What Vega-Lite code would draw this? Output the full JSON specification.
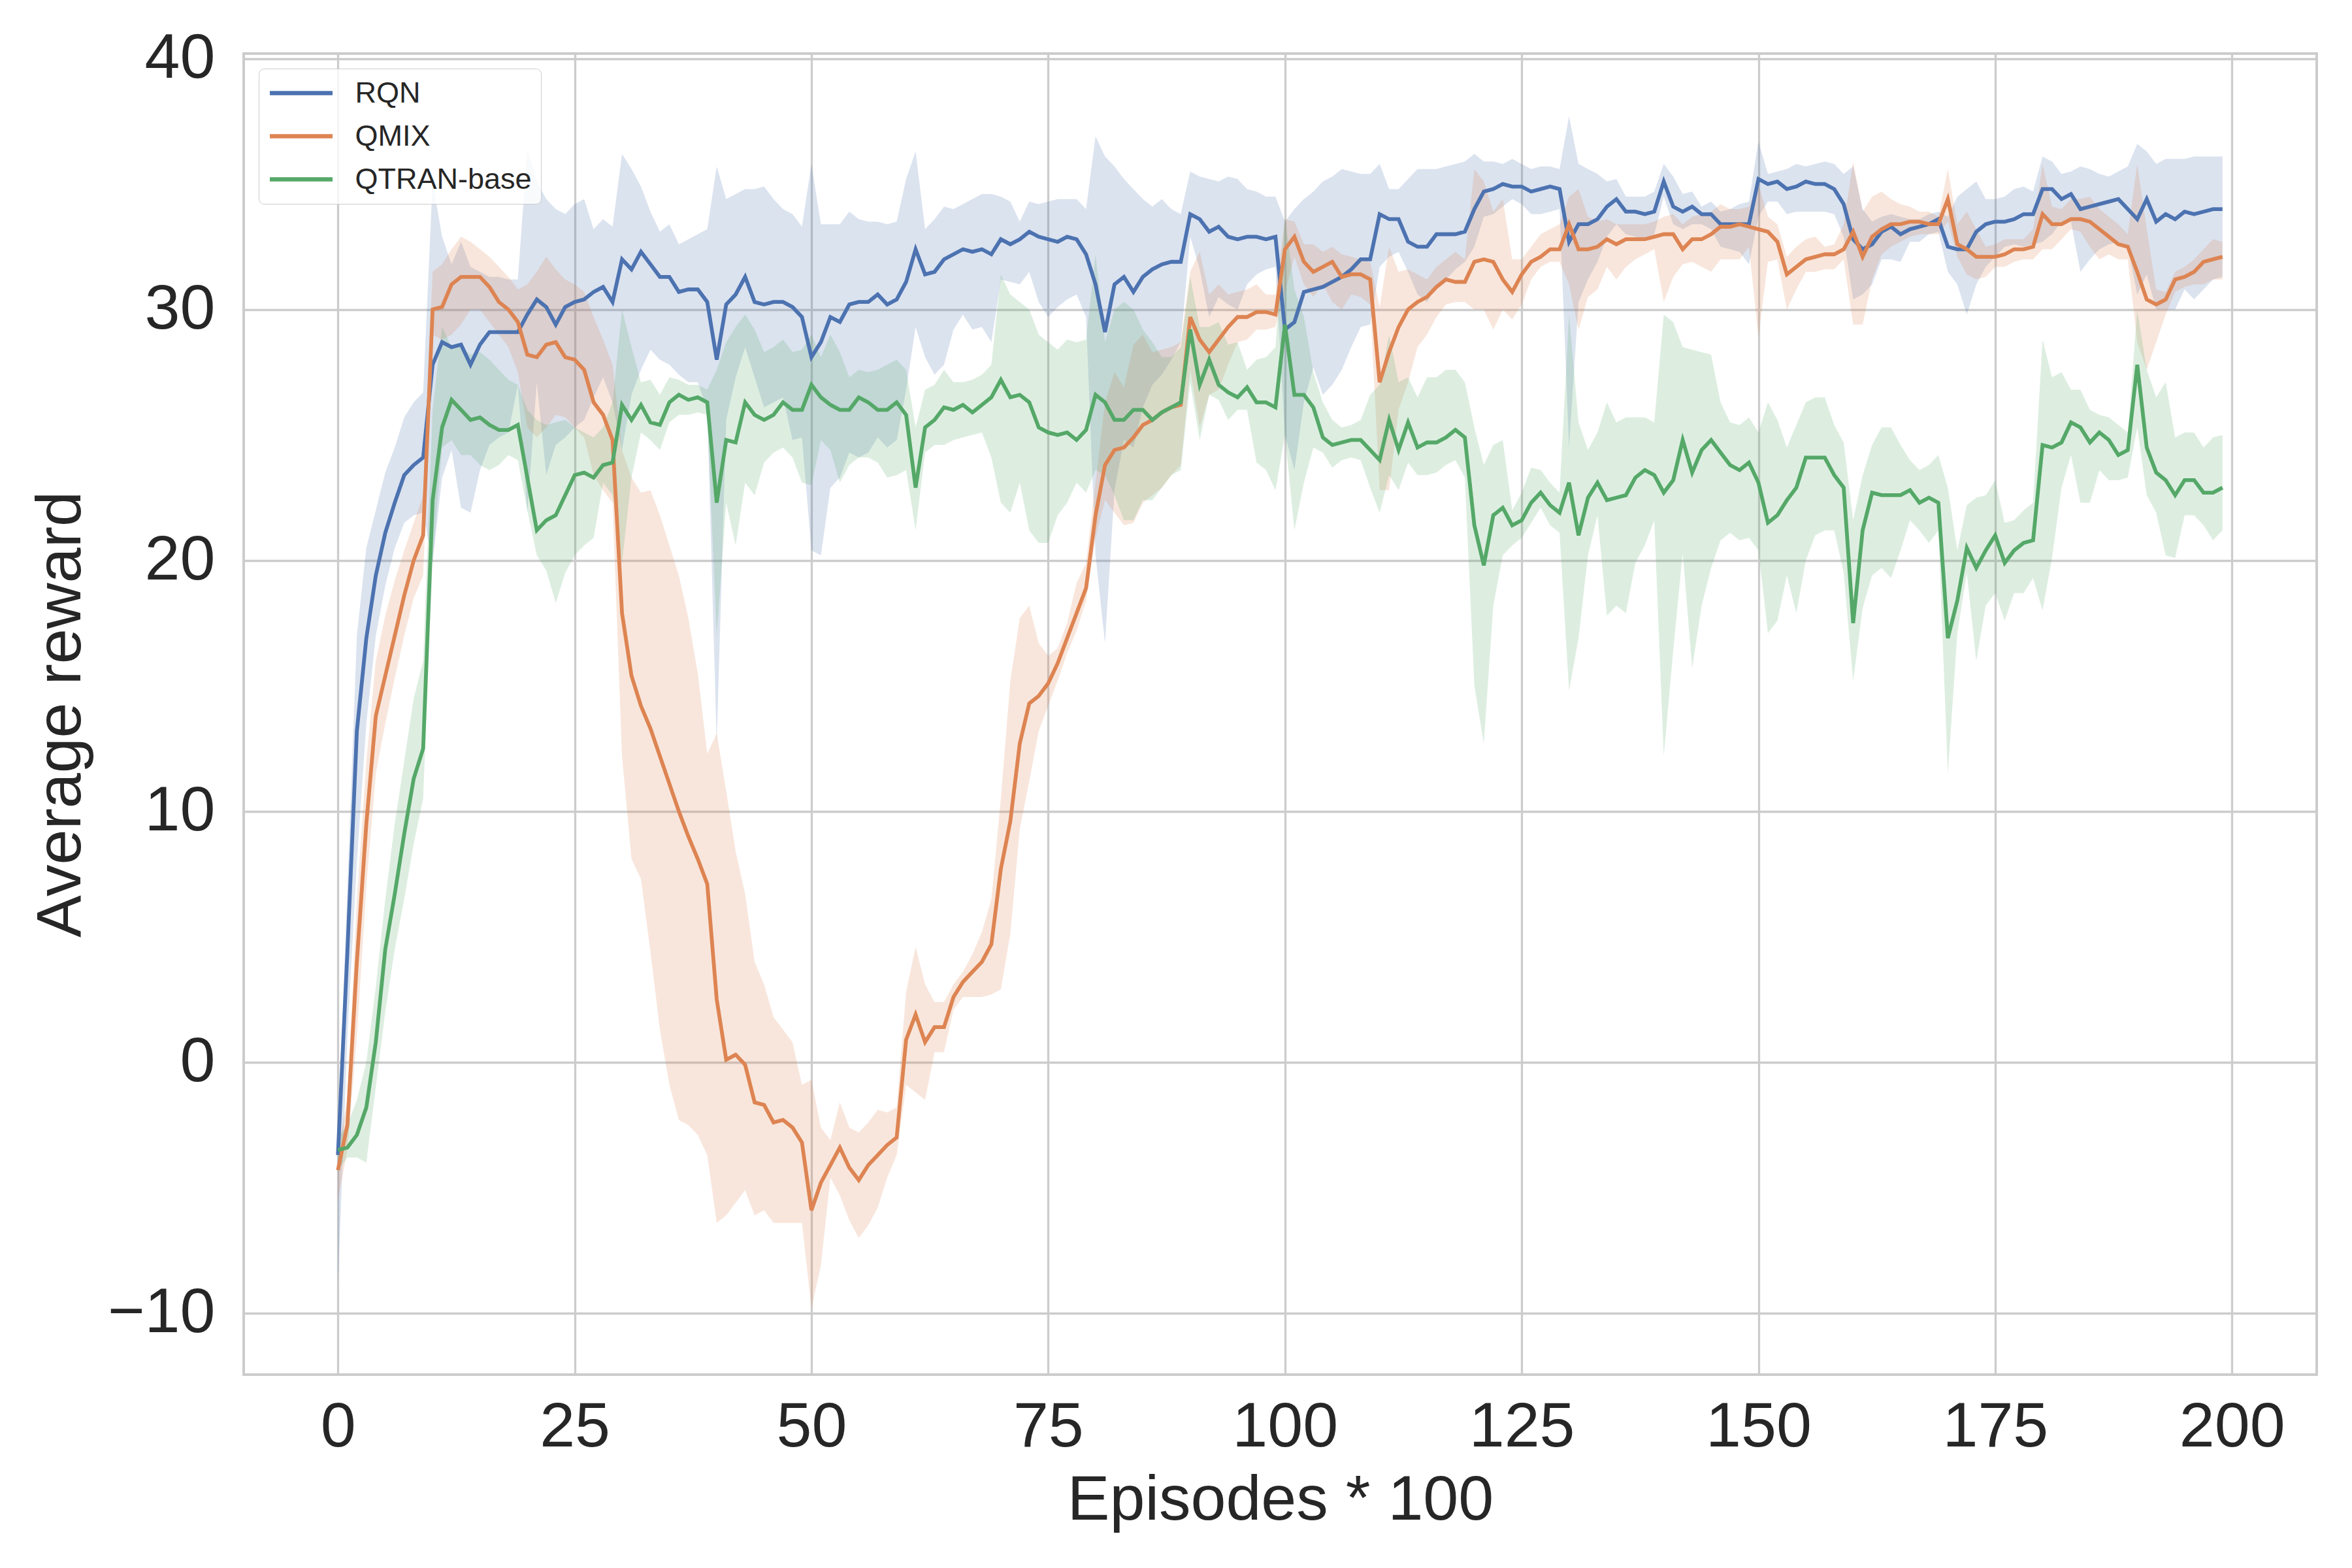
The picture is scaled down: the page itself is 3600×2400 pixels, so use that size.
{
  "$schema": "https://vega.github.io/schema/vega-lite/v6.json",
  "width": 3173,
  "height": 2022,
  "autosize": "none",
  "padding": {"left": 373, "top": 82, "right": 54, "bottom": 296},
  "background": "white",
  "data": {
    "values": [
      {"ep":0,"algo":"RQN","mean":-3.7,"lo":-8.9,"hi":-3.0},
      {"ep":1,"algo":"RQN","mean":4.4,"lo":1.0,"hi":7.0},
      {"ep":2,"algo":"RQN","mean":13.2,"lo":8.0,"hi":17.0},
      {"ep":3,"algo":"RQN","mean":16.9,"lo":13.5,"hi":20.5},
      {"ep":4,"algo":"RQN","mean":19.4,"lo":17.0,"hi":22.0},
      {"ep":5,"algo":"RQN","mean":21.1,"lo":19.0,"hi":23.5},
      {"ep":6,"algo":"RQN","mean":22.3,"lo":20.5,"hi":24.5},
      {"ep":7,"algo":"RQN","mean":23.4,"lo":21.5,"hi":25.7},
      {"ep":8,"algo":"RQN","mean":23.8,"lo":21.8,"hi":26.3},
      {"ep":9,"algo":"RQN","mean":24.1,"lo":21.9,"hi":26.7},
      {"ep":10,"algo":"RQN","mean":27.8,"lo":19.9,"hi":35.1},
      {"ep":11,"algo":"RQN","mean":28.7,"lo":23.3,"hi":32.9},
      {"ep":12,"algo":"RQN","mean":28.5,"lo":24.4,"hi":31.8},
      {"ep":13,"algo":"RQN","mean":28.6,"lo":22.1,"hi":32.7},
      {"ep":14,"algo":"RQN","mean":27.8,"lo":21.9,"hi":31.7},
      {"ep":15,"algo":"RQN","mean":28.6,"lo":23.6,"hi":31.5},
      {"ep":16,"algo":"RQN","mean":29.1,"lo":24.6,"hi":31.3},
      {"ep":17,"algo":"RQN","mean":29.1,"lo":24.9,"hi":31.3},
      {"ep":18,"algo":"RQN","mean":29.1,"lo":25.1,"hi":31.2},
      {"ep":19,"algo":"RQN","mean":29.1,"lo":27.0,"hi":31.2},
      {"ep":20,"algo":"RQN","mean":29.8,"lo":21.9,"hi":36.4},
      {"ep":21,"algo":"RQN","mean":30.4,"lo":27.1,"hi":35.1},
      {"ep":22,"algo":"RQN","mean":30.1,"lo":23.4,"hi":34.4},
      {"ep":23,"algo":"RQN","mean":29.4,"lo":24.6,"hi":34.0},
      {"ep":24,"algo":"RQN","mean":30.1,"lo":24.9,"hi":33.8},
      {"ep":25,"algo":"RQN","mean":30.3,"lo":25.3,"hi":34.2},
      {"ep":26,"algo":"RQN","mean":30.4,"lo":25.6,"hi":34.4},
      {"ep":27,"algo":"RQN","mean":30.7,"lo":26.5,"hi":33.2},
      {"ep":28,"algo":"RQN","mean":30.9,"lo":27.3,"hi":33.6},
      {"ep":29,"algo":"RQN","mean":30.3,"lo":26.3,"hi":33.3},
      {"ep":30,"algo":"RQN","mean":32.0,"lo":24.4,"hi":36.2},
      {"ep":31,"algo":"RQN","mean":31.6,"lo":26.6,"hi":35.6},
      {"ep":32,"algo":"RQN","mean":32.3,"lo":27.6,"hi":34.9},
      {"ep":33,"algo":"RQN","mean":31.8,"lo":28.4,"hi":33.9},
      {"ep":34,"algo":"RQN","mean":31.3,"lo":28.0,"hi":33.1},
      {"ep":35,"algo":"RQN","mean":31.3,"lo":27.8,"hi":33.4},
      {"ep":36,"algo":"RQN","mean":30.7,"lo":27.4,"hi":32.6},
      {"ep":37,"algo":"RQN","mean":30.8,"lo":27.1,"hi":32.8},
      {"ep":38,"algo":"RQN","mean":30.8,"lo":27.1,"hi":33.0},
      {"ep":39,"algo":"RQN","mean":30.3,"lo":26.0,"hi":33.2},
      {"ep":40,"algo":"RQN","mean":28.0,"lo":12.7,"hi":35.7},
      {"ep":41,"algo":"RQN","mean":30.2,"lo":25.6,"hi":34.4},
      {"ep":42,"algo":"RQN","mean":30.6,"lo":27.3,"hi":34.6},
      {"ep":43,"algo":"RQN","mean":31.3,"lo":28.5,"hi":34.8},
      {"ep":44,"algo":"RQN","mean":30.3,"lo":27.3,"hi":34.8},
      {"ep":45,"algo":"RQN","mean":30.2,"lo":26.1,"hi":34.9},
      {"ep":46,"algo":"RQN","mean":30.3,"lo":26.3,"hi":34.4},
      {"ep":47,"algo":"RQN","mean":30.3,"lo":26.5,"hi":34.0},
      {"ep":48,"algo":"RQN","mean":30.1,"lo":24.8,"hi":33.8},
      {"ep":49,"algo":"RQN","mean":29.7,"lo":24.9,"hi":33.3},
      {"ep":50,"algo":"RQN","mean":28.1,"lo":20.4,"hi":35.8},
      {"ep":51,"algo":"RQN","mean":28.7,"lo":20.2,"hi":33.4},
      {"ep":52,"algo":"RQN","mean":29.7,"lo":22.9,"hi":33.4},
      {"ep":53,"algo":"RQN","mean":29.5,"lo":23.3,"hi":33.4},
      {"ep":54,"algo":"RQN","mean":30.2,"lo":24.3,"hi":33.9},
      {"ep":55,"algo":"RQN","mean":30.3,"lo":24.1,"hi":33.6},
      {"ep":56,"algo":"RQN","mean":30.3,"lo":24.3,"hi":33.5},
      {"ep":57,"algo":"RQN","mean":30.6,"lo":24.9,"hi":33.5},
      {"ep":58,"algo":"RQN","mean":30.2,"lo":24.5,"hi":33.4},
      {"ep":59,"algo":"RQN","mean":30.4,"lo":24.8,"hi":33.5},
      {"ep":60,"algo":"RQN","mean":31.1,"lo":26.8,"hi":35.2},
      {"ep":61,"algo":"RQN","mean":32.4,"lo":29.3,"hi":36.3},
      {"ep":62,"algo":"RQN","mean":31.4,"lo":28.1,"hi":33.2},
      {"ep":63,"algo":"RQN","mean":31.5,"lo":27.4,"hi":33.6},
      {"ep":64,"algo":"RQN","mean":32.0,"lo":27.8,"hi":34.1},
      {"ep":65,"algo":"RQN","mean":32.2,"lo":29.2,"hi":34.0},
      {"ep":66,"algo":"RQN","mean":32.4,"lo":29.8,"hi":34.2},
      {"ep":67,"algo":"RQN","mean":32.3,"lo":29.2,"hi":34.4},
      {"ep":68,"algo":"RQN","mean":32.4,"lo":29.3,"hi":34.6},
      {"ep":69,"algo":"RQN","mean":32.2,"lo":28.7,"hi":34.6},
      {"ep":70,"algo":"RQN","mean":32.8,"lo":31.2,"hi":34.5},
      {"ep":71,"algo":"RQN","mean":32.6,"lo":31.1,"hi":34.3},
      {"ep":72,"algo":"RQN","mean":32.8,"lo":31.0,"hi":33.5},
      {"ep":73,"algo":"RQN","mean":33.1,"lo":31.5,"hi":34.3},
      {"ep":74,"algo":"RQN","mean":32.9,"lo":30.3,"hi":34.2},
      {"ep":75,"algo":"RQN","mean":32.8,"lo":29.7,"hi":34.3},
      {"ep":76,"algo":"RQN","mean":32.7,"lo":30.1,"hi":34.4},
      {"ep":77,"algo":"RQN","mean":32.9,"lo":30.4,"hi":34.4},
      {"ep":78,"algo":"RQN","mean":32.8,"lo":30.6,"hi":34.4},
      {"ep":79,"algo":"RQN","mean":32.2,"lo":29.7,"hi":34.0},
      {"ep":80,"algo":"RQN","mean":31.0,"lo":20.2,"hi":36.9},
      {"ep":81,"algo":"RQN","mean":29.1,"lo":16.7,"hi":36.1},
      {"ep":82,"algo":"RQN","mean":31.0,"lo":22.8,"hi":35.7},
      {"ep":83,"algo":"RQN","mean":31.3,"lo":24.8,"hi":35.2},
      {"ep":84,"algo":"RQN","mean":30.7,"lo":24.5,"hi":34.8},
      {"ep":85,"algo":"RQN","mean":31.3,"lo":26.1,"hi":34.4},
      {"ep":86,"algo":"RQN","mean":31.6,"lo":27.0,"hi":34.1},
      {"ep":87,"algo":"RQN","mean":31.8,"lo":27.4,"hi":34.4},
      {"ep":88,"algo":"RQN","mean":31.9,"lo":28.0,"hi":34.0},
      {"ep":89,"algo":"RQN","mean":31.9,"lo":28.7,"hi":33.8},
      {"ep":90,"algo":"RQN","mean":33.8,"lo":32.9,"hi":35.5},
      {"ep":91,"algo":"RQN","mean":33.6,"lo":31.6,"hi":35.3},
      {"ep":92,"algo":"RQN","mean":33.1,"lo":29.7,"hi":35.2},
      {"ep":93,"algo":"RQN","mean":33.3,"lo":30.5,"hi":35.1},
      {"ep":94,"algo":"RQN","mean":32.9,"lo":30.2,"hi":35.3},
      {"ep":95,"algo":"RQN","mean":32.8,"lo":30.0,"hi":35.2},
      {"ep":96,"algo":"RQN","mean":32.9,"lo":31.0,"hi":34.8},
      {"ep":97,"algo":"RQN","mean":32.9,"lo":31.4,"hi":34.7},
      {"ep":98,"algo":"RQN","mean":32.8,"lo":31.6,"hi":34.5},
      {"ep":99,"algo":"RQN","mean":32.9,"lo":31.7,"hi":34.5},
      {"ep":100,"algo":"RQN","mean":29.2,"lo":25.0,"hi":33.5},
      {"ep":101,"algo":"RQN","mean":29.5,"lo":23.6,"hi":34.0},
      {"ep":102,"algo":"RQN","mean":30.7,"lo":26.3,"hi":34.4},
      {"ep":103,"algo":"RQN","mean":30.8,"lo":27.7,"hi":34.7},
      {"ep":104,"algo":"RQN","mean":30.9,"lo":26.6,"hi":35.1},
      {"ep":105,"algo":"RQN","mean":31.1,"lo":27.0,"hi":35.3},
      {"ep":106,"algo":"RQN","mean":31.3,"lo":27.6,"hi":35.6},
      {"ep":107,"algo":"RQN","mean":31.6,"lo":28.5,"hi":35.5},
      {"ep":108,"algo":"RQN","mean":32.0,"lo":29.3,"hi":35.4},
      {"ep":109,"algo":"RQN","mean":32.0,"lo":29.4,"hi":35.4},
      {"ep":110,"algo":"RQN","mean":33.8,"lo":31.7,"hi":35.8},
      {"ep":111,"algo":"RQN","mean":33.6,"lo":32.1,"hi":34.8},
      {"ep":112,"algo":"RQN","mean":33.6,"lo":32.3,"hi":34.8},
      {"ep":113,"algo":"RQN","mean":32.7,"lo":31.5,"hi":35.2},
      {"ep":114,"algo":"RQN","mean":32.5,"lo":30.6,"hi":35.6},
      {"ep":115,"algo":"RQN","mean":32.5,"lo":30.3,"hi":35.6},
      {"ep":116,"algo":"RQN","mean":33.0,"lo":30.9,"hi":35.6},
      {"ep":117,"algo":"RQN","mean":33.0,"lo":31.2,"hi":35.7},
      {"ep":118,"algo":"RQN","mean":33.0,"lo":31.6,"hi":35.8},
      {"ep":119,"algo":"RQN","mean":33.1,"lo":31.9,"hi":35.9},
      {"ep":120,"algo":"RQN","mean":34.0,"lo":32.5,"hi":36.2},
      {"ep":121,"algo":"RQN","mean":34.7,"lo":33.7,"hi":35.9},
      {"ep":122,"algo":"RQN","mean":34.8,"lo":33.8,"hi":35.9},
      {"ep":123,"algo":"RQN","mean":35.0,"lo":34.1,"hi":35.8},
      {"ep":124,"algo":"RQN","mean":34.9,"lo":34.4,"hi":36.0},
      {"ep":125,"algo":"RQN","mean":34.9,"lo":34.2,"hi":35.8},
      {"ep":126,"algo":"RQN","mean":34.7,"lo":33.8,"hi":35.6},
      {"ep":127,"algo":"RQN","mean":34.8,"lo":33.8,"hi":35.7},
      {"ep":128,"algo":"RQN","mean":34.9,"lo":33.9,"hi":35.7},
      {"ep":129,"algo":"RQN","mean":34.8,"lo":34.0,"hi":35.6},
      {"ep":130,"algo":"RQN","mean":32.7,"lo":24.5,"hi":37.7},
      {"ep":131,"algo":"RQN","mean":33.4,"lo":30.3,"hi":35.8},
      {"ep":132,"algo":"RQN","mean":33.4,"lo":31.2,"hi":35.6},
      {"ep":133,"algo":"RQN","mean":33.6,"lo":31.9,"hi":35.4},
      {"ep":134,"algo":"RQN","mean":34.1,"lo":32.9,"hi":35.1},
      {"ep":135,"algo":"RQN","mean":34.4,"lo":33.4,"hi":35.2},
      {"ep":136,"algo":"RQN","mean":33.9,"lo":33.0,"hi":34.5},
      {"ep":137,"algo":"RQN","mean":33.9,"lo":32.9,"hi":34.5},
      {"ep":138,"algo":"RQN","mean":33.8,"lo":32.8,"hi":34.5},
      {"ep":139,"algo":"RQN","mean":33.9,"lo":33.0,"hi":34.7},
      {"ep":140,"algo":"RQN","mean":35.1,"lo":34.5,"hi":35.8},
      {"ep":141,"algo":"RQN","mean":34.1,"lo":33.4,"hi":35.3},
      {"ep":142,"algo":"RQN","mean":33.9,"lo":33.2,"hi":34.6},
      {"ep":143,"algo":"RQN","mean":34.1,"lo":33.4,"hi":34.7},
      {"ep":144,"algo":"RQN","mean":33.8,"lo":33.4,"hi":34.1},
      {"ep":145,"algo":"RQN","mean":33.8,"lo":33.2,"hi":34.3},
      {"ep":146,"algo":"RQN","mean":33.4,"lo":32.5,"hi":33.9},
      {"ep":147,"algo":"RQN","mean":33.4,"lo":32.4,"hi":34.0},
      {"ep":148,"algo":"RQN","mean":33.4,"lo":32.3,"hi":34.2},
      {"ep":149,"algo":"RQN","mean":33.4,"lo":31.8,"hi":34.3},
      {"ep":150,"algo":"RQN","mean":35.2,"lo":33.7,"hi":36.7},
      {"ep":151,"algo":"RQN","mean":35.0,"lo":34.3,"hi":35.4},
      {"ep":152,"algo":"RQN","mean":35.1,"lo":34.3,"hi":35.5},
      {"ep":153,"algo":"RQN","mean":34.8,"lo":33.8,"hi":35.6},
      {"ep":154,"algo":"RQN","mean":34.9,"lo":33.9,"hi":35.8},
      {"ep":155,"algo":"RQN","mean":35.1,"lo":33.9,"hi":35.7},
      {"ep":156,"algo":"RQN","mean":35.0,"lo":33.9,"hi":35.8},
      {"ep":157,"algo":"RQN","mean":35.0,"lo":33.9,"hi":35.9},
      {"ep":158,"algo":"RQN","mean":34.8,"lo":33.8,"hi":35.8},
      {"ep":159,"algo":"RQN","mean":34.2,"lo":32.9,"hi":35.4},
      {"ep":160,"algo":"RQN","mean":32.8,"lo":30.4,"hi":35.7},
      {"ep":161,"algo":"RQN","mean":32.4,"lo":30.6,"hi":34.0},
      {"ep":162,"algo":"RQN","mean":32.6,"lo":31.0,"hi":33.5},
      {"ep":163,"algo":"RQN","mean":33.1,"lo":32.0,"hi":33.7},
      {"ep":164,"algo":"RQN","mean":33.3,"lo":32.0,"hi":33.8},
      {"ep":165,"algo":"RQN","mean":33.0,"lo":31.9,"hi":33.7},
      {"ep":166,"algo":"RQN","mean":33.2,"lo":32.7,"hi":33.6},
      {"ep":167,"algo":"RQN","mean":33.3,"lo":32.7,"hi":33.6},
      {"ep":168,"algo":"RQN","mean":33.4,"lo":33.0,"hi":33.8},
      {"ep":169,"algo":"RQN","mean":33.6,"lo":33.1,"hi":33.9},
      {"ep":170,"algo":"RQN","mean":32.5,"lo":31.5,"hi":33.7},
      {"ep":171,"algo":"RQN","mean":32.4,"lo":31.0,"hi":34.5},
      {"ep":172,"algo":"RQN","mean":32.4,"lo":29.8,"hi":34.8},
      {"ep":173,"algo":"RQN","mean":33.1,"lo":31.0,"hi":35.1},
      {"ep":174,"algo":"RQN","mean":33.4,"lo":31.7,"hi":34.4},
      {"ep":175,"algo":"RQN","mean":33.5,"lo":32.1,"hi":34.4},
      {"ep":176,"algo":"RQN","mean":33.5,"lo":32.5,"hi":34.5},
      {"ep":177,"algo":"RQN","mean":33.6,"lo":32.6,"hi":34.8},
      {"ep":178,"algo":"RQN","mean":33.8,"lo":32.5,"hi":34.9},
      {"ep":179,"algo":"RQN","mean":33.8,"lo":32.6,"hi":34.7},
      {"ep":180,"algo":"RQN","mean":34.8,"lo":32.7,"hi":36.1},
      {"ep":181,"algo":"RQN","mean":34.8,"lo":33.0,"hi":35.9},
      {"ep":182,"algo":"RQN","mean":34.4,"lo":33.5,"hi":35.4},
      {"ep":183,"algo":"RQN","mean":34.6,"lo":33.5,"hi":35.5},
      {"ep":184,"algo":"RQN","mean":34.0,"lo":31.5,"hi":35.7},
      {"ep":185,"algo":"RQN","mean":34.1,"lo":32.0,"hi":35.6},
      {"ep":186,"algo":"RQN","mean":34.2,"lo":32.4,"hi":35.4},
      {"ep":187,"algo":"RQN","mean":34.3,"lo":32.6,"hi":35.3},
      {"ep":188,"algo":"RQN","mean":34.4,"lo":32.7,"hi":35.5},
      {"ep":189,"algo":"RQN","mean":34.0,"lo":32.5,"hi":35.7},
      {"ep":190,"algo":"RQN","mean":33.6,"lo":30.6,"hi":36.6},
      {"ep":191,"algo":"RQN","mean":34.4,"lo":31.4,"hi":36.3},
      {"ep":192,"algo":"RQN","mean":33.5,"lo":30.0,"hi":35.8},
      {"ep":193,"algo":"RQN","mean":33.8,"lo":30.0,"hi":36.0},
      {"ep":194,"algo":"RQN","mean":33.6,"lo":30.0,"hi":36.0},
      {"ep":195,"algo":"RQN","mean":33.9,"lo":30.8,"hi":36.0},
      {"ep":196,"algo":"RQN","mean":33.8,"lo":30.4,"hi":36.1},
      {"ep":197,"algo":"RQN","mean":33.9,"lo":30.8,"hi":36.1},
      {"ep":198,"algo":"RQN","mean":34.0,"lo":31.2,"hi":36.1},
      {"ep":199,"algo":"RQN","mean":34.0,"lo":31.3,"hi":36.1},
      {"ep":0,"algo":"QMIX","mean":-4.3,"lo":-5.5,"hi":-3.5},
      {"ep":1,"algo":"QMIX","mean":-2.5,"lo":-3.5,"hi":-1.5},
      {"ep":2,"algo":"QMIX","mean":4.0,"lo":1.0,"hi":6.5},
      {"ep":3,"algo":"QMIX","mean":9.5,"lo":7.0,"hi":12.0},
      {"ep":4,"algo":"QMIX","mean":13.8,"lo":11.5,"hi":16.0},
      {"ep":5,"algo":"QMIX","mean":15.4,"lo":13.5,"hi":17.8},
      {"ep":6,"algo":"QMIX","mean":17.0,"lo":15.3,"hi":19.2},
      {"ep":7,"algo":"QMIX","mean":18.6,"lo":17.0,"hi":20.4},
      {"ep":8,"algo":"QMIX","mean":20.0,"lo":18.5,"hi":21.5},
      {"ep":9,"algo":"QMIX","mean":21.0,"lo":19.4,"hi":22.6},
      {"ep":10,"algo":"QMIX","mean":30.0,"lo":29.0,"hi":31.5},
      {"ep":11,"algo":"QMIX","mean":30.1,"lo":28.8,"hi":31.8},
      {"ep":12,"algo":"QMIX","mean":31.0,"lo":29.0,"hi":32.4},
      {"ep":13,"algo":"QMIX","mean":31.3,"lo":29.4,"hi":32.9},
      {"ep":14,"algo":"QMIX","mean":31.3,"lo":30.0,"hi":32.7},
      {"ep":15,"algo":"QMIX","mean":31.3,"lo":30.0,"hi":32.4},
      {"ep":16,"algo":"QMIX","mean":30.9,"lo":29.5,"hi":32.1},
      {"ep":17,"algo":"QMIX","mean":30.3,"lo":29.0,"hi":31.7},
      {"ep":18,"algo":"QMIX","mean":30.0,"lo":28.5,"hi":31.3},
      {"ep":19,"algo":"QMIX","mean":29.5,"lo":27.5,"hi":30.8},
      {"ep":20,"algo":"QMIX","mean":28.2,"lo":25.3,"hi":31.0},
      {"ep":21,"algo":"QMIX","mean":28.1,"lo":24.9,"hi":31.5},
      {"ep":22,"algo":"QMIX","mean":28.6,"lo":25.3,"hi":32.1},
      {"ep":23,"algo":"QMIX","mean":28.7,"lo":25.8,"hi":31.6},
      {"ep":24,"algo":"QMIX","mean":28.1,"lo":25.7,"hi":31.2},
      {"ep":25,"algo":"QMIX","mean":28.0,"lo":25.3,"hi":31.0},
      {"ep":26,"algo":"QMIX","mean":27.6,"lo":24.9,"hi":30.7},
      {"ep":27,"algo":"QMIX","mean":26.3,"lo":23.4,"hi":29.7},
      {"ep":28,"algo":"QMIX","mean":25.8,"lo":22.8,"hi":28.8},
      {"ep":29,"algo":"QMIX","mean":24.8,"lo":22.3,"hi":27.8},
      {"ep":30,"algo":"QMIX","mean":17.9,"lo":12.2,"hi":24.4},
      {"ep":31,"algo":"QMIX","mean":15.4,"lo":8.1,"hi":23.3},
      {"ep":32,"algo":"QMIX","mean":14.2,"lo":7.3,"hi":22.7},
      {"ep":33,"algo":"QMIX","mean":13.3,"lo":4.4,"hi":22.8},
      {"ep":34,"algo":"QMIX","mean":12.2,"lo":1.3,"hi":21.8},
      {"ep":35,"algo":"QMIX","mean":11.1,"lo":-0.9,"hi":20.6},
      {"ep":36,"algo":"QMIX","mean":10.0,"lo":-2.3,"hi":19.4},
      {"ep":37,"algo":"QMIX","mean":9.0,"lo":-2.5,"hi":17.7},
      {"ep":38,"algo":"QMIX","mean":8.1,"lo":-2.9,"hi":15.5},
      {"ep":39,"algo":"QMIX","mean":7.1,"lo":-3.7,"hi":12.3},
      {"ep":40,"algo":"QMIX","mean":2.5,"lo":-6.4,"hi":13.1},
      {"ep":41,"algo":"QMIX","mean":0.1,"lo":-6.1,"hi":10.8},
      {"ep":42,"algo":"QMIX","mean":0.3,"lo":-5.6,"hi":8.4},
      {"ep":43,"algo":"QMIX","mean":-0.1,"lo":-5.1,"hi":6.7},
      {"ep":44,"algo":"QMIX","mean":-1.6,"lo":-6.1,"hi":4.0},
      {"ep":45,"algo":"QMIX","mean":-1.7,"lo":-5.9,"hi":3.1},
      {"ep":46,"algo":"QMIX","mean":-2.4,"lo":-6.4,"hi":1.8},
      {"ep":47,"algo":"QMIX","mean":-2.3,"lo":-6.4,"hi":1.3},
      {"ep":48,"algo":"QMIX","mean":-2.6,"lo":-6.4,"hi":0.8},
      {"ep":49,"algo":"QMIX","mean":-3.2,"lo":-6.4,"hi":-0.9},
      {"ep":50,"algo":"QMIX","mean":-5.9,"lo":-9.8,"hi":-0.7},
      {"ep":51,"algo":"QMIX","mean":-4.8,"lo":-8.1,"hi":-2.6},
      {"ep":52,"algo":"QMIX","mean":-4.1,"lo":-4.6,"hi":-3.1},
      {"ep":53,"algo":"QMIX","mean":-3.4,"lo":-5.3,"hi":-1.6},
      {"ep":54,"algo":"QMIX","mean":-4.2,"lo":-6.3,"hi":-2.6},
      {"ep":55,"algo":"QMIX","mean":-4.7,"lo":-7.0,"hi":-2.8},
      {"ep":56,"algo":"QMIX","mean":-4.1,"lo":-6.5,"hi":-2.4},
      {"ep":57,"algo":"QMIX","mean":-3.7,"lo":-5.8,"hi":-1.9},
      {"ep":58,"algo":"QMIX","mean":-3.3,"lo":-4.6,"hi":-2.0},
      {"ep":59,"algo":"QMIX","mean":-3.0,"lo":-3.7,"hi":-1.8},
      {"ep":60,"algo":"QMIX","mean":0.9,"lo":-0.9,"hi":2.8},
      {"ep":61,"algo":"QMIX","mean":1.9,"lo":-1.2,"hi":4.6},
      {"ep":62,"algo":"QMIX","mean":0.8,"lo":-1.5,"hi":3.1},
      {"ep":63,"algo":"QMIX","mean":1.4,"lo":0.4,"hi":2.4},
      {"ep":64,"algo":"QMIX","mean":1.4,"lo":0.4,"hi":2.4},
      {"ep":65,"algo":"QMIX","mean":2.6,"lo":2.1,"hi":3.1},
      {"ep":66,"algo":"QMIX","mean":3.2,"lo":2.6,"hi":3.6},
      {"ep":67,"algo":"QMIX","mean":3.6,"lo":2.6,"hi":4.3},
      {"ep":68,"algo":"QMIX","mean":4.0,"lo":2.6,"hi":5.2},
      {"ep":69,"algo":"QMIX","mean":4.7,"lo":2.7,"hi":6.5},
      {"ep":70,"algo":"QMIX","mean":7.7,"lo":2.9,"hi":10.5},
      {"ep":71,"algo":"QMIX","mean":9.6,"lo":5.1,"hi":15.2},
      {"ep":72,"algo":"QMIX","mean":12.7,"lo":9.3,"hi":17.7},
      {"ep":73,"algo":"QMIX","mean":14.3,"lo":11.2,"hi":18.2},
      {"ep":74,"algo":"QMIX","mean":14.6,"lo":13.2,"hi":16.7},
      {"ep":75,"algo":"QMIX","mean":15.1,"lo":14.2,"hi":16.2},
      {"ep":76,"algo":"QMIX","mean":15.9,"lo":15.2,"hi":16.5},
      {"ep":77,"algo":"QMIX","mean":16.9,"lo":16.3,"hi":17.5},
      {"ep":78,"algo":"QMIX","mean":17.9,"lo":17.2,"hi":19.1},
      {"ep":79,"algo":"QMIX","mean":18.9,"lo":18.4,"hi":19.9},
      {"ep":80,"algo":"QMIX","mean":21.8,"lo":20.9,"hi":23.1},
      {"ep":81,"algo":"QMIX","mean":23.8,"lo":22.4,"hi":26.3},
      {"ep":82,"algo":"QMIX","mean":24.4,"lo":21.9,"hi":27.5},
      {"ep":83,"algo":"QMIX","mean":24.5,"lo":21.4,"hi":26.9},
      {"ep":84,"algo":"QMIX","mean":24.9,"lo":21.5,"hi":28.6},
      {"ep":85,"algo":"QMIX","mean":25.4,"lo":22.3,"hi":29.0},
      {"ep":86,"algo":"QMIX","mean":25.6,"lo":22.6,"hi":28.3},
      {"ep":87,"algo":"QMIX","mean":25.9,"lo":22.9,"hi":28.4},
      {"ep":88,"algo":"QMIX","mean":26.1,"lo":23.4,"hi":28.5},
      {"ep":89,"algo":"QMIX","mean":26.2,"lo":23.8,"hi":28.7},
      {"ep":90,"algo":"QMIX","mean":29.7,"lo":27.6,"hi":31.5},
      {"ep":91,"algo":"QMIX","mean":28.8,"lo":25.3,"hi":32.3},
      {"ep":92,"algo":"QMIX","mean":28.3,"lo":26.6,"hi":30.6},
      {"ep":93,"algo":"QMIX","mean":28.8,"lo":26.8,"hi":31.0},
      {"ep":94,"algo":"QMIX","mean":29.3,"lo":27.8,"hi":30.6},
      {"ep":95,"algo":"QMIX","mean":29.7,"lo":28.7,"hi":30.7},
      {"ep":96,"algo":"QMIX","mean":29.7,"lo":28.8,"hi":30.8},
      {"ep":97,"algo":"QMIX","mean":29.9,"lo":29.2,"hi":31.0},
      {"ep":98,"algo":"QMIX","mean":29.9,"lo":29.2,"hi":30.6},
      {"ep":99,"algo":"QMIX","mean":29.8,"lo":29.3,"hi":30.6},
      {"ep":100,"algo":"QMIX","mean":32.4,"lo":30.7,"hi":33.6},
      {"ep":101,"algo":"QMIX","mean":32.9,"lo":32.1,"hi":33.5},
      {"ep":102,"algo":"QMIX","mean":31.9,"lo":31.0,"hi":32.6},
      {"ep":103,"algo":"QMIX","mean":31.5,"lo":30.5,"hi":32.6},
      {"ep":104,"algo":"QMIX","mean":31.7,"lo":31.0,"hi":32.3},
      {"ep":105,"algo":"QMIX","mean":31.9,"lo":30.3,"hi":32.5},
      {"ep":106,"algo":"QMIX","mean":31.3,"lo":30.0,"hi":32.2},
      {"ep":107,"algo":"QMIX","mean":31.4,"lo":30.6,"hi":32.1},
      {"ep":108,"algo":"QMIX","mean":31.4,"lo":30.5,"hi":32.0},
      {"ep":109,"algo":"QMIX","mean":31.2,"lo":30.2,"hi":31.9},
      {"ep":110,"algo":"QMIX","mean":27.1,"lo":22.8,"hi":30.1},
      {"ep":111,"algo":"QMIX","mean":28.3,"lo":22.8,"hi":32.5},
      {"ep":112,"algo":"QMIX","mean":29.3,"lo":26.0,"hi":31.5},
      {"ep":113,"algo":"QMIX","mean":30.0,"lo":27.1,"hi":31.6},
      {"ep":114,"algo":"QMIX","mean":30.3,"lo":28.5,"hi":31.4},
      {"ep":115,"algo":"QMIX","mean":30.5,"lo":29.0,"hi":31.2},
      {"ep":116,"algo":"QMIX","mean":30.9,"lo":29.7,"hi":31.7},
      {"ep":117,"algo":"QMIX","mean":31.2,"lo":30.2,"hi":32.0},
      {"ep":118,"algo":"QMIX","mean":31.1,"lo":30.3,"hi":32.3},
      {"ep":119,"algo":"QMIX","mean":31.1,"lo":30.3,"hi":32.0},
      {"ep":120,"algo":"QMIX","mean":31.9,"lo":30.0,"hi":35.6},
      {"ep":121,"algo":"QMIX","mean":32.0,"lo":30.0,"hi":35.1},
      {"ep":122,"algo":"QMIX","mean":31.9,"lo":29.2,"hi":33.9},
      {"ep":123,"algo":"QMIX","mean":31.2,"lo":30.0,"hi":34.4},
      {"ep":124,"algo":"QMIX","mean":30.7,"lo":29.6,"hi":32.0},
      {"ep":125,"algo":"QMIX","mean":31.4,"lo":30.2,"hi":32.0},
      {"ep":126,"algo":"QMIX","mean":31.9,"lo":31.2,"hi":32.5},
      {"ep":127,"algo":"QMIX","mean":32.1,"lo":31.7,"hi":33.0},
      {"ep":128,"algo":"QMIX","mean":32.4,"lo":31.9,"hi":33.2},
      {"ep":129,"algo":"QMIX","mean":32.4,"lo":31.9,"hi":33.4},
      {"ep":130,"algo":"QMIX","mean":33.4,"lo":31.0,"hi":34.5},
      {"ep":131,"algo":"QMIX","mean":32.4,"lo":29.2,"hi":34.8},
      {"ep":132,"algo":"QMIX","mean":32.4,"lo":30.5,"hi":33.7},
      {"ep":133,"algo":"QMIX","mean":32.5,"lo":30.8,"hi":33.5},
      {"ep":134,"algo":"QMIX","mean":32.8,"lo":31.7,"hi":33.6},
      {"ep":135,"algo":"QMIX","mean":32.6,"lo":31.2,"hi":33.4},
      {"ep":136,"algo":"QMIX","mean":32.8,"lo":31.7,"hi":33.4},
      {"ep":137,"algo":"QMIX","mean":32.8,"lo":32.0,"hi":33.4},
      {"ep":138,"algo":"QMIX","mean":32.8,"lo":32.2,"hi":33.4},
      {"ep":139,"algo":"QMIX","mean":32.9,"lo":32.4,"hi":33.5},
      {"ep":140,"algo":"QMIX","mean":33.0,"lo":30.3,"hi":33.7},
      {"ep":141,"algo":"QMIX","mean":33.0,"lo":31.3,"hi":33.8},
      {"ep":142,"algo":"QMIX","mean":32.4,"lo":31.8,"hi":33.4},
      {"ep":143,"algo":"QMIX","mean":32.8,"lo":31.9,"hi":33.7},
      {"ep":144,"algo":"QMIX","mean":32.8,"lo":31.7,"hi":33.8},
      {"ep":145,"algo":"QMIX","mean":33.0,"lo":31.5,"hi":33.9},
      {"ep":146,"algo":"QMIX","mean":33.3,"lo":32.0,"hi":34.2},
      {"ep":147,"algo":"QMIX","mean":33.3,"lo":32.0,"hi":34.0},
      {"ep":148,"algo":"QMIX","mean":33.4,"lo":32.0,"hi":34.0},
      {"ep":149,"algo":"QMIX","mean":33.3,"lo":32.5,"hi":34.1},
      {"ep":150,"algo":"QMIX","mean":33.2,"lo":28.9,"hi":35.0},
      {"ep":151,"algo":"QMIX","mean":33.1,"lo":31.9,"hi":33.7},
      {"ep":152,"algo":"QMIX","mean":32.7,"lo":32.0,"hi":33.4},
      {"ep":153,"algo":"QMIX","mean":31.4,"lo":30.0,"hi":32.1},
      {"ep":154,"algo":"QMIX","mean":31.7,"lo":30.8,"hi":32.5},
      {"ep":155,"algo":"QMIX","mean":32.0,"lo":31.5,"hi":32.8},
      {"ep":156,"algo":"QMIX","mean":32.1,"lo":31.5,"hi":32.9},
      {"ep":157,"algo":"QMIX","mean":32.2,"lo":31.6,"hi":32.5},
      {"ep":158,"algo":"QMIX","mean":32.2,"lo":31.6,"hi":32.6},
      {"ep":159,"algo":"QMIX","mean":32.4,"lo":32.0,"hi":33.4},
      {"ep":160,"algo":"QMIX","mean":33.1,"lo":29.4,"hi":35.9},
      {"ep":161,"algo":"QMIX","mean":32.1,"lo":29.4,"hi":33.9},
      {"ep":162,"algo":"QMIX","mean":32.9,"lo":31.2,"hi":34.5},
      {"ep":163,"algo":"QMIX","mean":33.2,"lo":32.2,"hi":34.7},
      {"ep":164,"algo":"QMIX","mean":33.4,"lo":32.5,"hi":34.4},
      {"ep":165,"algo":"QMIX","mean":33.4,"lo":32.7,"hi":34.2},
      {"ep":166,"algo":"QMIX","mean":33.5,"lo":32.9,"hi":34.1},
      {"ep":167,"algo":"QMIX","mean":33.5,"lo":33.0,"hi":33.9},
      {"ep":168,"algo":"QMIX","mean":33.4,"lo":33.0,"hi":33.9},
      {"ep":169,"algo":"QMIX","mean":33.4,"lo":33.0,"hi":33.7},
      {"ep":170,"algo":"QMIX","mean":34.4,"lo":33.5,"hi":35.6},
      {"ep":171,"algo":"QMIX","mean":32.6,"lo":32.1,"hi":33.4},
      {"ep":172,"algo":"QMIX","mean":32.4,"lo":31.4,"hi":33.9},
      {"ep":173,"algo":"QMIX","mean":32.1,"lo":31.2,"hi":33.2},
      {"ep":174,"algo":"QMIX","mean":32.1,"lo":31.3,"hi":32.5},
      {"ep":175,"algo":"QMIX","mean":32.1,"lo":31.7,"hi":32.6},
      {"ep":176,"algo":"QMIX","mean":32.2,"lo":31.7,"hi":32.8},
      {"ep":177,"algo":"QMIX","mean":32.4,"lo":31.9,"hi":32.8},
      {"ep":178,"algo":"QMIX","mean":32.4,"lo":32.0,"hi":32.8},
      {"ep":179,"algo":"QMIX","mean":32.5,"lo":32.0,"hi":33.2},
      {"ep":180,"algo":"QMIX","mean":33.8,"lo":32.4,"hi":35.8},
      {"ep":181,"algo":"QMIX","mean":33.4,"lo":32.4,"hi":34.1},
      {"ep":182,"algo":"QMIX","mean":33.4,"lo":32.8,"hi":34.0},
      {"ep":183,"algo":"QMIX","mean":33.6,"lo":33.2,"hi":34.4},
      {"ep":184,"algo":"QMIX","mean":33.6,"lo":33.1,"hi":34.4},
      {"ep":185,"algo":"QMIX","mean":33.5,"lo":32.5,"hi":34.5},
      {"ep":186,"algo":"QMIX","mean":33.2,"lo":32.0,"hi":34.0},
      {"ep":187,"algo":"QMIX","mean":32.9,"lo":32.2,"hi":33.7},
      {"ep":188,"algo":"QMIX","mean":32.6,"lo":32.0,"hi":33.4},
      {"ep":189,"algo":"QMIX","mean":32.5,"lo":32.0,"hi":33.0},
      {"ep":190,"algo":"QMIX","mean":31.5,"lo":28.7,"hi":35.8},
      {"ep":191,"algo":"QMIX","mean":30.4,"lo":27.6,"hi":33.2},
      {"ep":192,"algo":"QMIX","mean":30.2,"lo":28.7,"hi":30.8},
      {"ep":193,"algo":"QMIX","mean":30.4,"lo":29.8,"hi":30.7},
      {"ep":194,"algo":"QMIX","mean":31.2,"lo":30.7,"hi":31.5},
      {"ep":195,"algo":"QMIX","mean":31.3,"lo":30.9,"hi":31.7},
      {"ep":196,"algo":"QMIX","mean":31.5,"lo":31.0,"hi":32.0},
      {"ep":197,"algo":"QMIX","mean":31.9,"lo":31.0,"hi":32.4},
      {"ep":198,"algo":"QMIX","mean":32.0,"lo":31.2,"hi":32.8},
      {"ep":199,"algo":"QMIX","mean":32.1,"lo":31.2,"hi":32.7},
      {"ep":0,"algo":"QTRAN-base","mean":-3.5,"lo":-4.3,"hi":-3.0},
      {"ep":1,"algo":"QTRAN-base","mean":-3.4,"lo":-3.8,"hi":-2.5},
      {"ep":2,"algo":"QTRAN-base","mean":-2.9,"lo":-3.8,"hi":-1.5},
      {"ep":3,"algo":"QTRAN-base","mean":-1.8,"lo":-4.0,"hi":0.0},
      {"ep":4,"algo":"QTRAN-base","mean":0.8,"lo":-1.0,"hi":3.0},
      {"ep":5,"algo":"QTRAN-base","mean":4.5,"lo":2.0,"hi":6.5},
      {"ep":6,"algo":"QTRAN-base","mean":6.7,"lo":4.5,"hi":9.5},
      {"ep":7,"algo":"QTRAN-base","mean":9.1,"lo":6.5,"hi":12.0},
      {"ep":8,"algo":"QTRAN-base","mean":11.3,"lo":8.7,"hi":14.5},
      {"ep":9,"algo":"QTRAN-base","mean":12.5,"lo":10.5,"hi":16.0},
      {"ep":10,"algo":"QTRAN-base","mean":22.4,"lo":20.0,"hi":26.0},
      {"ep":11,"algo":"QTRAN-base","mean":25.3,"lo":24.5,"hi":29.3},
      {"ep":12,"algo":"QTRAN-base","mean":26.4,"lo":24.8,"hi":28.5},
      {"ep":13,"algo":"QTRAN-base","mean":26.0,"lo":24.2,"hi":28.5},
      {"ep":14,"algo":"QTRAN-base","mean":25.6,"lo":24.2,"hi":28.2},
      {"ep":15,"algo":"QTRAN-base","mean":25.7,"lo":23.8,"hi":28.3},
      {"ep":16,"algo":"QTRAN-base","mean":25.4,"lo":23.6,"hi":28.0},
      {"ep":17,"algo":"QTRAN-base","mean":25.2,"lo":23.8,"hi":27.6},
      {"ep":18,"algo":"QTRAN-base","mean":25.2,"lo":24.2,"hi":27.2},
      {"ep":19,"algo":"QTRAN-base","mean":25.4,"lo":24.0,"hi":27.0},
      {"ep":20,"algo":"QTRAN-base","mean":23.3,"lo":22.0,"hi":26.0},
      {"ep":21,"algo":"QTRAN-base","mean":21.2,"lo":20.2,"hi":25.6},
      {"ep":22,"algo":"QTRAN-base","mean":21.6,"lo":19.6,"hi":25.4},
      {"ep":23,"algo":"QTRAN-base","mean":21.8,"lo":18.3,"hi":25.5},
      {"ep":24,"algo":"QTRAN-base","mean":22.6,"lo":19.5,"hi":25.6},
      {"ep":25,"algo":"QTRAN-base","mean":23.4,"lo":20.2,"hi":25.3},
      {"ep":26,"algo":"QTRAN-base","mean":23.5,"lo":20.6,"hi":25.1},
      {"ep":27,"algo":"QTRAN-base","mean":23.3,"lo":20.9,"hi":24.9},
      {"ep":28,"algo":"QTRAN-base","mean":23.8,"lo":23.1,"hi":25.3},
      {"ep":29,"algo":"QTRAN-base","mean":23.9,"lo":22.6,"hi":26.3},
      {"ep":30,"algo":"QTRAN-base","mean":26.2,"lo":19.9,"hi":30.0},
      {"ep":31,"algo":"QTRAN-base","mean":25.6,"lo":23.3,"hi":28.5},
      {"ep":32,"algo":"QTRAN-base","mean":26.2,"lo":25.1,"hi":27.1},
      {"ep":33,"algo":"QTRAN-base","mean":25.5,"lo":24.8,"hi":27.2},
      {"ep":34,"algo":"QTRAN-base","mean":25.4,"lo":24.4,"hi":26.6},
      {"ep":35,"algo":"QTRAN-base","mean":26.3,"lo":25.5,"hi":27.3},
      {"ep":36,"algo":"QTRAN-base","mean":26.6,"lo":25.8,"hi":27.2},
      {"ep":37,"algo":"QTRAN-base","mean":26.4,"lo":25.8,"hi":27.0},
      {"ep":38,"algo":"QTRAN-base","mean":26.5,"lo":25.9,"hi":27.0},
      {"ep":39,"algo":"QTRAN-base","mean":26.3,"lo":25.8,"hi":26.8},
      {"ep":40,"algo":"QTRAN-base","mean":22.3,"lo":17.0,"hi":27.6},
      {"ep":41,"algo":"QTRAN-base","mean":24.8,"lo":22.3,"hi":28.7},
      {"ep":42,"algo":"QTRAN-base","mean":24.7,"lo":20.6,"hi":29.3},
      {"ep":43,"algo":"QTRAN-base","mean":26.3,"lo":23.1,"hi":29.8},
      {"ep":44,"algo":"QTRAN-base","mean":25.8,"lo":22.6,"hi":29.2},
      {"ep":45,"algo":"QTRAN-base","mean":25.6,"lo":23.9,"hi":28.3},
      {"ep":46,"algo":"QTRAN-base","mean":25.8,"lo":24.3,"hi":28.5},
      {"ep":47,"algo":"QTRAN-base","mean":26.3,"lo":24.5,"hi":28.8},
      {"ep":48,"algo":"QTRAN-base","mean":26.0,"lo":24.1,"hi":28.3},
      {"ep":49,"algo":"QTRAN-base","mean":26.0,"lo":23.1,"hi":28.4},
      {"ep":50,"algo":"QTRAN-base","mean":27.0,"lo":23.0,"hi":29.0},
      {"ep":51,"algo":"QTRAN-base","mean":26.5,"lo":24.8,"hi":28.1},
      {"ep":52,"algo":"QTRAN-base","mean":26.2,"lo":24.4,"hi":29.0},
      {"ep":53,"algo":"QTRAN-base","mean":26.0,"lo":23.1,"hi":28.3},
      {"ep":54,"algo":"QTRAN-base","mean":26.0,"lo":23.8,"hi":27.3},
      {"ep":55,"algo":"QTRAN-base","mean":26.5,"lo":24.1,"hi":27.6},
      {"ep":56,"algo":"QTRAN-base","mean":26.3,"lo":24.1,"hi":27.5},
      {"ep":57,"algo":"QTRAN-base","mean":26.0,"lo":23.9,"hi":27.6},
      {"ep":58,"algo":"QTRAN-base","mean":26.0,"lo":23.3,"hi":27.8},
      {"ep":59,"algo":"QTRAN-base","mean":26.3,"lo":23.4,"hi":28.0},
      {"ep":60,"algo":"QTRAN-base","mean":25.8,"lo":23.6,"hi":27.6},
      {"ep":61,"algo":"QTRAN-base","mean":22.9,"lo":21.2,"hi":25.3},
      {"ep":62,"algo":"QTRAN-base","mean":25.3,"lo":24.3,"hi":26.8},
      {"ep":63,"algo":"QTRAN-base","mean":25.6,"lo":24.6,"hi":27.0},
      {"ep":64,"algo":"QTRAN-base","mean":26.1,"lo":24.6,"hi":27.6},
      {"ep":65,"algo":"QTRAN-base","mean":26.0,"lo":24.8,"hi":27.1},
      {"ep":66,"algo":"QTRAN-base","mean":26.2,"lo":24.9,"hi":27.1},
      {"ep":67,"algo":"QTRAN-base","mean":25.9,"lo":25.0,"hi":27.2},
      {"ep":68,"algo":"QTRAN-base","mean":26.2,"lo":25.1,"hi":27.4},
      {"ep":69,"algo":"QTRAN-base","mean":26.5,"lo":24.1,"hi":27.8},
      {"ep":70,"algo":"QTRAN-base","mean":27.2,"lo":22.3,"hi":31.4},
      {"ep":71,"algo":"QTRAN-base","mean":26.5,"lo":21.9,"hi":30.6},
      {"ep":72,"algo":"QTRAN-base","mean":26.6,"lo":23.1,"hi":30.3},
      {"ep":73,"algo":"QTRAN-base","mean":26.3,"lo":21.2,"hi":30.0},
      {"ep":74,"algo":"QTRAN-base","mean":25.3,"lo":20.7,"hi":29.0},
      {"ep":75,"algo":"QTRAN-base","mean":25.1,"lo":20.7,"hi":28.7},
      {"ep":76,"algo":"QTRAN-base","mean":25.0,"lo":21.8,"hi":28.4},
      {"ep":77,"algo":"QTRAN-base","mean":25.1,"lo":22.3,"hi":28.8},
      {"ep":78,"algo":"QTRAN-base","mean":24.8,"lo":23.1,"hi":28.7},
      {"ep":79,"algo":"QTRAN-base","mean":25.2,"lo":22.7,"hi":28.8},
      {"ep":80,"algo":"QTRAN-base","mean":26.6,"lo":23.6,"hi":32.2},
      {"ep":81,"algo":"QTRAN-base","mean":26.3,"lo":23.4,"hi":28.7},
      {"ep":82,"algo":"QTRAN-base","mean":25.6,"lo":22.6,"hi":30.0},
      {"ep":83,"algo":"QTRAN-base","mean":25.6,"lo":21.6,"hi":30.3},
      {"ep":84,"algo":"QTRAN-base","mean":26.0,"lo":21.6,"hi":30.0},
      {"ep":85,"algo":"QTRAN-base","mean":26.0,"lo":22.4,"hi":29.2},
      {"ep":86,"algo":"QTRAN-base","mean":25.6,"lo":22.4,"hi":28.7},
      {"ep":87,"algo":"QTRAN-base","mean":25.9,"lo":22.9,"hi":28.1},
      {"ep":88,"algo":"QTRAN-base","mean":26.1,"lo":23.4,"hi":28.1},
      {"ep":89,"algo":"QTRAN-base","mean":26.3,"lo":23.6,"hi":28.5},
      {"ep":90,"algo":"QTRAN-base","mean":29.2,"lo":27.1,"hi":31.3},
      {"ep":91,"algo":"QTRAN-base","mean":27.0,"lo":24.8,"hi":29.3},
      {"ep":92,"algo":"QTRAN-base","mean":28.0,"lo":26.6,"hi":29.3},
      {"ep":93,"algo":"QTRAN-base","mean":27.0,"lo":26.4,"hi":29.5},
      {"ep":94,"algo":"QTRAN-base","mean":26.7,"lo":25.6,"hi":28.6},
      {"ep":95,"algo":"QTRAN-base","mean":26.5,"lo":26.0,"hi":28.7},
      {"ep":96,"algo":"QTRAN-base","mean":26.9,"lo":26.0,"hi":27.6},
      {"ep":97,"algo":"QTRAN-base","mean":26.3,"lo":23.9,"hi":28.0},
      {"ep":98,"algo":"QTRAN-base","mean":26.3,"lo":23.6,"hi":28.1},
      {"ep":99,"algo":"QTRAN-base","mean":26.1,"lo":22.8,"hi":28.5},
      {"ep":100,"algo":"QTRAN-base","mean":29.4,"lo":25.0,"hi":33.7},
      {"ep":101,"algo":"QTRAN-base","mean":26.6,"lo":21.2,"hi":30.8},
      {"ep":102,"algo":"QTRAN-base","mean":26.6,"lo":23.1,"hi":29.7},
      {"ep":103,"algo":"QTRAN-base","mean":26.1,"lo":24.5,"hi":27.5},
      {"ep":104,"algo":"QTRAN-base","mean":24.9,"lo":24.3,"hi":26.3},
      {"ep":105,"algo":"QTRAN-base","mean":24.6,"lo":23.7,"hi":25.6},
      {"ep":106,"algo":"QTRAN-base","mean":24.7,"lo":24.0,"hi":25.3},
      {"ep":107,"algo":"QTRAN-base","mean":24.8,"lo":24.1,"hi":25.4},
      {"ep":108,"algo":"QTRAN-base","mean":24.8,"lo":24.0,"hi":25.6},
      {"ep":109,"algo":"QTRAN-base","mean":24.4,"lo":22.9,"hi":26.6},
      {"ep":110,"algo":"QTRAN-base","mean":24.0,"lo":21.9,"hi":27.0},
      {"ep":111,"algo":"QTRAN-base","mean":25.6,"lo":23.4,"hi":29.0},
      {"ep":112,"algo":"QTRAN-base","mean":24.4,"lo":22.8,"hi":27.1},
      {"ep":113,"algo":"QTRAN-base","mean":25.5,"lo":23.9,"hi":27.3},
      {"ep":114,"algo":"QTRAN-base","mean":24.5,"lo":23.4,"hi":26.5},
      {"ep":115,"algo":"QTRAN-base","mean":24.7,"lo":23.4,"hi":27.3},
      {"ep":116,"algo":"QTRAN-base","mean":24.7,"lo":23.5,"hi":27.3},
      {"ep":117,"algo":"QTRAN-base","mean":24.9,"lo":23.8,"hi":27.6},
      {"ep":118,"algo":"QTRAN-base","mean":25.2,"lo":24.0,"hi":27.6},
      {"ep":119,"algo":"QTRAN-base","mean":24.9,"lo":23.3,"hi":27.1},
      {"ep":120,"algo":"QTRAN-base","mean":21.4,"lo":15.0,"hi":25.3},
      {"ep":121,"algo":"QTRAN-base","mean":19.8,"lo":12.7,"hi":23.8},
      {"ep":122,"algo":"QTRAN-base","mean":21.8,"lo":18.2,"hi":24.6},
      {"ep":123,"algo":"QTRAN-base","mean":22.1,"lo":20.2,"hi":24.8},
      {"ep":124,"algo":"QTRAN-base","mean":21.4,"lo":20.6,"hi":22.0},
      {"ep":125,"algo":"QTRAN-base","mean":21.6,"lo":20.9,"hi":22.7},
      {"ep":126,"algo":"QTRAN-base","mean":22.3,"lo":21.5,"hi":23.7},
      {"ep":127,"algo":"QTRAN-base","mean":22.7,"lo":22.1,"hi":23.6},
      {"ep":128,"algo":"QTRAN-base","mean":22.2,"lo":21.4,"hi":23.1},
      {"ep":129,"algo":"QTRAN-base","mean":21.9,"lo":21.1,"hi":22.7},
      {"ep":130,"algo":"QTRAN-base","mean":23.1,"lo":14.8,"hi":29.8},
      {"ep":131,"algo":"QTRAN-base","mean":21.0,"lo":16.9,"hi":25.5},
      {"ep":132,"algo":"QTRAN-base","mean":22.5,"lo":20.2,"hi":24.4},
      {"ep":133,"algo":"QTRAN-base","mean":23.1,"lo":21.8,"hi":25.1},
      {"ep":134,"algo":"QTRAN-base","mean":22.4,"lo":17.8,"hi":26.3},
      {"ep":135,"algo":"QTRAN-base","mean":22.5,"lo":18.2,"hi":25.5},
      {"ep":136,"algo":"QTRAN-base","mean":22.6,"lo":17.9,"hi":25.7},
      {"ep":137,"algo":"QTRAN-base","mean":23.3,"lo":19.9,"hi":25.7},
      {"ep":138,"algo":"QTRAN-base","mean":23.6,"lo":20.6,"hi":25.7},
      {"ep":139,"algo":"QTRAN-base","mean":23.4,"lo":21.6,"hi":25.5},
      {"ep":140,"algo":"QTRAN-base","mean":22.7,"lo":12.2,"hi":29.8},
      {"ep":141,"algo":"QTRAN-base","mean":23.2,"lo":16.4,"hi":29.5},
      {"ep":142,"algo":"QTRAN-base","mean":24.8,"lo":20.3,"hi":28.5},
      {"ep":143,"algo":"QTRAN-base","mean":23.5,"lo":15.7,"hi":28.4},
      {"ep":144,"algo":"QTRAN-base","mean":24.4,"lo":18.2,"hi":28.3},
      {"ep":145,"algo":"QTRAN-base","mean":24.8,"lo":19.7,"hi":28.2},
      {"ep":146,"algo":"QTRAN-base","mean":24.3,"lo":20.8,"hi":26.3},
      {"ep":147,"algo":"QTRAN-base","mean":23.8,"lo":21.1,"hi":25.5},
      {"ep":148,"algo":"QTRAN-base","mean":23.6,"lo":20.8,"hi":25.4},
      {"ep":149,"algo":"QTRAN-base","mean":23.9,"lo":20.9,"hi":25.7},
      {"ep":150,"algo":"QTRAN-base","mean":23.1,"lo":20.4,"hi":25.1},
      {"ep":151,"algo":"QTRAN-base","mean":21.5,"lo":17.1,"hi":26.3},
      {"ep":152,"algo":"QTRAN-base","mean":21.8,"lo":17.6,"hi":25.6},
      {"ep":153,"algo":"QTRAN-base","mean":22.4,"lo":19.4,"hi":24.5},
      {"ep":154,"algo":"QTRAN-base","mean":22.9,"lo":17.9,"hi":25.4},
      {"ep":155,"algo":"QTRAN-base","mean":24.1,"lo":20.0,"hi":26.3},
      {"ep":156,"algo":"QTRAN-base","mean":24.1,"lo":21.0,"hi":26.5},
      {"ep":157,"algo":"QTRAN-base","mean":24.1,"lo":21.2,"hi":26.5},
      {"ep":158,"algo":"QTRAN-base","mean":23.4,"lo":21.2,"hi":25.4},
      {"ep":159,"algo":"QTRAN-base","mean":22.9,"lo":19.5,"hi":24.7},
      {"ep":160,"algo":"QTRAN-base","mean":17.5,"lo":15.2,"hi":21.6},
      {"ep":161,"algo":"QTRAN-base","mean":21.2,"lo":18.1,"hi":23.4},
      {"ep":162,"algo":"QTRAN-base","mean":22.7,"lo":19.4,"hi":24.6},
      {"ep":163,"algo":"QTRAN-base","mean":22.6,"lo":19.7,"hi":25.3},
      {"ep":164,"algo":"QTRAN-base","mean":22.6,"lo":19.3,"hi":25.3},
      {"ep":165,"algo":"QTRAN-base","mean":22.6,"lo":20.4,"hi":24.6},
      {"ep":166,"algo":"QTRAN-base","mean":22.8,"lo":21.6,"hi":24.0},
      {"ep":167,"algo":"QTRAN-base","mean":22.3,"lo":21.2,"hi":23.6},
      {"ep":168,"algo":"QTRAN-base","mean":22.5,"lo":20.7,"hi":23.8},
      {"ep":169,"algo":"QTRAN-base","mean":22.3,"lo":21.2,"hi":24.2},
      {"ep":170,"algo":"QTRAN-base","mean":16.9,"lo":11.5,"hi":22.9},
      {"ep":171,"algo":"QTRAN-base","mean":18.4,"lo":17.1,"hi":20.4},
      {"ep":172,"algo":"QTRAN-base","mean":20.5,"lo":19.5,"hi":22.2},
      {"ep":173,"algo":"QTRAN-base","mean":19.7,"lo":16.0,"hi":22.5},
      {"ep":174,"algo":"QTRAN-base","mean":20.4,"lo":18.2,"hi":22.6},
      {"ep":175,"algo":"QTRAN-base","mean":21.0,"lo":18.7,"hi":23.2},
      {"ep":176,"algo":"QTRAN-base","mean":19.9,"lo":17.6,"hi":21.5},
      {"ep":177,"algo":"QTRAN-base","mean":20.4,"lo":18.7,"hi":21.6},
      {"ep":178,"algo":"QTRAN-base","mean":20.7,"lo":18.7,"hi":22.0},
      {"ep":179,"algo":"QTRAN-base","mean":20.8,"lo":19.3,"hi":22.3},
      {"ep":180,"algo":"QTRAN-base","mean":24.6,"lo":18.0,"hi":28.8},
      {"ep":181,"algo":"QTRAN-base","mean":24.5,"lo":20.1,"hi":27.3},
      {"ep":182,"algo":"QTRAN-base","mean":24.7,"lo":22.9,"hi":27.5},
      {"ep":183,"algo":"QTRAN-base","mean":25.5,"lo":24.2,"hi":26.8},
      {"ep":184,"algo":"QTRAN-base","mean":25.3,"lo":22.3,"hi":26.8},
      {"ep":185,"algo":"QTRAN-base","mean":24.7,"lo":22.3,"hi":26.0},
      {"ep":186,"algo":"QTRAN-base","mean":25.1,"lo":23.6,"hi":25.8},
      {"ep":187,"algo":"QTRAN-base","mean":24.8,"lo":23.2,"hi":25.7},
      {"ep":188,"algo":"QTRAN-base","mean":24.2,"lo":23.2,"hi":25.4},
      {"ep":189,"algo":"QTRAN-base","mean":24.4,"lo":23.3,"hi":25.1},
      {"ep":190,"algo":"QTRAN-base","mean":27.8,"lo":25.3,"hi":30.0},
      {"ep":191,"algo":"QTRAN-base","mean":24.5,"lo":22.6,"hi":27.6},
      {"ep":192,"algo":"QTRAN-base","mean":23.5,"lo":21.9,"hi":26.5},
      {"ep":193,"algo":"QTRAN-base","mean":23.2,"lo":20.2,"hi":27.1},
      {"ep":194,"algo":"QTRAN-base","mean":22.6,"lo":20.1,"hi":24.9},
      {"ep":195,"algo":"QTRAN-base","mean":23.2,"lo":21.8,"hi":25.1},
      {"ep":196,"algo":"QTRAN-base","mean":23.2,"lo":21.8,"hi":25.1},
      {"ep":197,"algo":"QTRAN-base","mean":22.7,"lo":21.4,"hi":24.5},
      {"ep":198,"algo":"QTRAN-base","mean":22.7,"lo":20.8,"hi":24.9},
      {"ep":199,"algo":"QTRAN-base","mean":22.9,"lo":21.2,"hi":25.0}
    ]
  },
  "encoding": {
    "x": {
      "field": "ep",
      "type": "quantitative",
      "scale": {"domain": [-9.95, 208.95], "nice": false, "zero": false},
      "axis": {
        "title": "Episodes * 100",
        "values": [0, 25, 50, 75, 100, 125, 150, 175, 200],
        "labelPadding": 32,
        "titleY": 221,
        "titleBaseline": "alphabetic"
      }
    }
  },
  "layer": [
    {
      "transform": [{"filter": "datum.algo === 'RQN'"}],
      "mark": {"type": "area", "color": "#4c72b0", "fillOpacity": 0.2, "strokeOpacity": 0.22, "strokeWidth": 2.5},
      "encoding": {
        "y": {"field": "lo", "type": "quantitative"},
        "y2": {"field": "hi"}
      }
    },
    {
      "transform": [{"filter": "datum.algo === 'QMIX'"}],
      "mark": {"type": "area", "color": "#dd8452", "fillOpacity": 0.2, "strokeOpacity": 0.22, "strokeWidth": 2.5},
      "encoding": {
        "y": {"field": "lo", "type": "quantitative"},
        "y2": {"field": "hi"}
      }
    },
    {
      "transform": [{"filter": "datum.algo === 'QTRAN-base'"}],
      "mark": {"type": "area", "color": "#55a868", "fillOpacity": 0.2, "strokeOpacity": 0.22, "strokeWidth": 2.5},
      "encoding": {
        "y": {"field": "lo", "type": "quantitative"},
        "y2": {"field": "hi"}
      }
    },
    {
      "mark": {"type": "line", "strokeWidth": 5.8},
      "encoding": {
        "y": {
          "field": "mean",
          "type": "quantitative",
          "scale": {"domain": [-12.45, 40.2], "nice": false, "zero": false},
          "axis": {
            "title": "Average reward",
            "values": [-10, 0, 10, 20, 30, 40],
            "labelPadding": 44,
            "titleX": -251,
            "titleBaseline": "alphabetic"
          }
        },
        "color": {
          "field": "algo",
          "type": "nominal",
          "scale": {"domain": ["RQN", "QMIX", "QTRAN-base"], "range": ["#4c72b0", "#dd8452", "#55a868"]},
          "legend": {
            "title": null,
            "orient": "top-left",
            "offset": 23,
            "symbolType": "M-2.4,0H2.4",
            "symbolSize": 1600,
            "symbolStrokeWidth": 6.5,
            "symbolOffset": 27.5,
            "labelOffset": 59,
            "labelLimit": 1000,
            "rowPadding": 19,
            "padding": 14,
            "labelFontSize": 45,
            "strokeColor": "#cccccc",
            "fillColor": "rgba(255,255,255,0.8)",
            "cornerRadius": 8
          }
        }
      }
    }
  ],
  "config": {
    "font": "Liberation Sans",
    "view": {"stroke": "#cccccc", "strokeWidth": 4},
    "axis": {
      "grid": true,
      "gridColor": "#cccccc",
      "gridWidth": 3.3,
      "domain": false,
      "ticks": false,
      "tickSize": 0,
      "labelFont": "Liberation Sans",
      "labelFontSize": 97,
      "labelColor": "#262626",
      "titleFont": "Liberation Sans",
      "titleFontSize": 97,
      "titleFontWeight": "normal",
      "titleColor": "#262626"
    },
    "legend": {
      "labelFont": "Liberation Sans",
      "labelColor": "#262626"
    }
  }
}
